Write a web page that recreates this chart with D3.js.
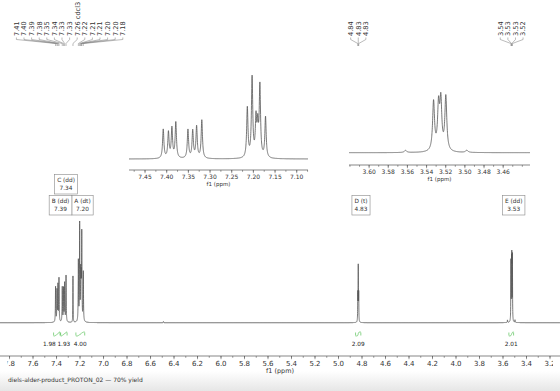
<!DOCTYPE html>
<html>
<head>
<meta charset="utf-8">
<script src="https://cdn.jsdelivr.net/npm/d3@7"></script>
<style>
body { margin: 0; background: #fff; }
svg { display: block; font-family: "DejaVu Sans", Verdana, sans-serif; }
</style>
</head>
<body>
<script>
// ---- data ----
// aromatic lines (ppm) and their heights, tallest group = 1
var aromShift  = [7.408, 7.396, 7.388, 7.379, 7.351, 7.340, 7.331, 7.319, 7.214, 7.203, 7.194, 7.190, 7.185, 7.172];
var aromHeight = [0.35, 0.31, 0.36, 0.43, 0.345, 0.33, 0.38, 0.46, 0.60, 0.96, 0.445, 0.35, 0.85, 0.49];
var solventShift  = [7.26];
var solventHeight = [0.46];
var dShift  = [4.836, 4.832, 4.828];
var dHeight = [0.27, 0.54, 0.27];
var eShift  = [3.5327, 3.5275, 3.5251, 3.5199];
var eHeight = [0.59, 0.52, 0.57, 0.65];
var smallShift  = [6.49, 3.562, 3.498];
var smallHeight = [0.012, 0.025, 0.025];

// peak picking labels (top)
var aromLabels = ["7.41", "7.40", "7.39", "7.38", "7.35", "7.34", "7.33", "7.33", "7.22", "7.21", "7.21", "7.20", "7.20", "7.18"];
var solventLabels = ["7.26 cdcl3"];
var dLabels = ["4.84", "4.83", "4.83"];
var eLabels = ["3.54", "3.53", "3.53", "3.52"];

// multiplets
var multName  = ["A", "B", "C", "D", "E"];
var multType  = ["dt", "dd", "dd", "t", "dd"];
var multShift = [7.20, 7.39, 7.34, 4.83, 3.53];

// integrals
var intFrom  = [7.425, 7.365, 7.235, 4.855, 3.55];
var intTo    = [7.37, 7.31, 7.16, 4.81, 3.51];
var intValue = [1.98, 1.93, 4.00, 2.09, 2.01];

var mainTicks = d3.range(7.8, 3.1, -0.2);
var inset1Ticks = d3.range(7.45, 7.08, -0.05);
var inset2Ticks = d3.range(3.60, 3.45, -0.02);
var caption = "diels-alder-product_PROTON_02 \u2014 70% yield";

// ---- setup ----
var W = 560, H = 391;
var svg = d3.select("body").append("svg").attr("width", W).attr("height", H);
var defs = svg.append("defs");

var grad = defs.append("linearGradient")
    .attr("id", "band").attr("x1", 0).attr("y1", 0).attr("x2", 0).attr("y2", 1);
grad.append("stop").attr("offset", 0).attr("stop-color", "#fff");
grad.append("stop").attr("offset", 1).attr("stop-color", "#e6e6e6");
svg.append("rect").attr("x", 0).attr("y", 371).attr("width", W).attr("height", H - 371)
    .attr("fill", "url(#band)");

// the exported figure is cut a little at both sides
defs.append("clipPath").attr("id", "cut").append("rect")
    .attr("x", 7.5).attr("y", 0).attr("width", 545.5).attr("height", H);

var lines = [], insetLines = [];
function addLines(shifts, heights, width, inInset) {
    shifts.forEach(function (s, i) {
        var l = { ppm: s, h: heights[i], w: width };
        lines.push(l);
        if (inInset) insetLines.push(l);
    });
}
addLines(aromShift, aromHeight, 0.0018, true);
addLines(solventShift, solventHeight, 0.0012, false);
addLines(dShift, dHeight, 0.0012, true);
addLines(eShift, eHeight, 0.0012, true);
addLines(smallShift, smallHeight, 0.0015, true);

function intensity(ppm, set) {
    var v = 0;
    set.forEach(function (l) {
        var d = ppm - l.ppm;
        v += l.h * l.w * l.w / (d * d + l.w * l.w);
    });
    return v;
}

function drawCurve(g, x, y, set, step) {
    var dom = x.domain();
    var ppms = d3.range(dom[0], dom[1], -step).concat(set.map(function (l) { return l.ppm; })
        .filter(function (p) { return p < dom[0] && p > dom[1]; }));
    ppms.sort(d3.descending);
    var pts = ppms.map(function (p) { return [x(p), y(intensity(p, set))]; });
    g.append("path")
        .attr("d", d3.line()(pts))
        .attr("fill", "none")
        .attr("stroke", "#555")
        .attr("stroke-width", 0.8);
}

function drawAxis(g, x, yPos, ticks, minorStep, fmt, fontSize, labelY, clip) {
    var dom = x.domain();
    var minor = d3.range(Math.floor(dom[0] / minorStep) * minorStep, dom[1], -minorStep);
    var ax = g.append("g").attr("transform", "translate(0," + yPos + ")");
    ax.append("line").attr("x1", x(dom[0])).attr("x2", x(dom[1]))
        .attr("stroke", "#555").attr("stroke-width", 0.7);
    ax.selectAll(".minor").data(minor).enter().append("line")
        .attr("x1", function (d) { return x(d); }).attr("x2", function (d) { return x(d); })
        .attr("y1", 0).attr("y2", 1.8).attr("stroke", "#555").attr("stroke-width", 0.6);
    ax.selectAll(".major").data(ticks).enter().append("line")
        .attr("x1", function (d) { return x(d); }).attr("x2", function (d) { return x(d); })
        .attr("y1", 0).attr("y2", 3.2).attr("stroke", "#555").attr("stroke-width", 0.6);
    var lab = ax.append("g");
    if (clip) lab.attr("clip-path", "url(#cut)");
    lab.selectAll("text").data(ticks).enter().append("text")
        .attr("x", function (d) { return x(d); })
        .attr("y", 4.5 + fontSize * 0.8)
        .attr("text-anchor", "middle")
        .attr("font-size", fontSize)
        .attr("fill", "#333")
        .text(function (d) { return d3.format(fmt)(d); });
    g.append("text")
        .attr("x", (x.range()[0] + x.range()[1]) / 2)
        .attr("y", labelY)
        .attr("text-anchor", "middle")
        .attr("font-size", fontSize * 0.92)
        .attr("fill", "#333")
        .text("f1 (ppm)");
}

// ---- main spectrum ----
var x = d3.scaleLinear().domain([7.881, 3.115]).range([0, W]);
var baseY = 322.7;
var y = d3.scaleLinear().domain([0, 1]).range([baseY, baseY - 100.7]);
var main = svg.append("g");
drawCurve(main, x, y, lines, 0.0003);
drawAxis(main, x, 356, mainTicks, 0.1, ".1f", 7, 373, true);

// ---- insets ----
var x1 = d3.scaleLinear().domain([7.487, 7.074]).range([129, 308]);
var y1 = d3.scaleLinear().domain([0, 1]).range([159, 159 - 83]);
var inset1 = svg.append("g");
drawCurve(inset1, x1, y1, insetLines, 0.0002);
drawAxis(inset1, x1, 170, inset1Ticks, 0.025, ".2f", 6, 186, false);

var x2 = d3.scaleLinear().domain([3.621, 3.432]).range([349, 530]);
var y2 = d3.scaleLinear().domain([0, 1]).range([152.7, 152.7 - 83.5]);
var inset2 = svg.append("g");
drawCurve(inset2, x2, y2, insetLines, 0.0001);
drawAxis(inset2, x2, 165, inset2Ticks, 0.01, ".2f", 6, 180.5, false);

// ---- peak labels on top ----
function peakLabels(labels, shifts, spacing) {
    var xs = shifts.map(function (s) { return x(s); });
    var c = d3.mean(xs);
    var g = svg.append("g");
    labels.forEach(function (t, i) {
        var lx = c + (i - (labels.length - 1) / 2) * spacing;
        g.append("text")
            .attr("transform", "translate(" + lx + ",36) rotate(-90)")
            .attr("dy", "0.35em")
            .attr("font-size", 6.6)
            .attr("fill", "#333")
            .text(t);
        g.append("path")
            .attr("d", "M" + lx + ",37.5V39.5L" + xs[i] + ",43.5V46")
            .attr("fill", "none").attr("stroke", "#777").attr("stroke-width", 0.5);
    });
}
var leftShift = aromShift.slice(0, 8).concat(solventShift, aromShift.slice(8));
var leftLabels = aromLabels.slice(0, 8).concat(solventLabels, aromLabels.slice(8));
peakLabels(leftLabels, leftShift, 7.6);
peakLabels(dLabels, dShift, 7.6);
peakLabels(eLabels, eShift, 7.6);

// ---- multiplet boxes ----
var boxFont = 5.8, placed = [];
multName.forEach(function (n, i) {
    var l1 = n + " (" + multType[i] + ")", l2 = multShift[i].toFixed(2);
    var g = svg.append("g");
    var t1 = g.append("text").attr("font-size", boxFont).attr("text-anchor", "middle").attr("fill", "#333").text(l1);
    var t2 = g.append("text").attr("font-size", boxFont).attr("text-anchor", "middle").attr("fill", "#333").text(l2);
    var w = Math.max(t1.node().getComputedTextLength(), t2.node().getComputedTextLength()) + 5;
    var cx = x(multShift[i]) + 2.5;
    var row = 0;
    while (placed.some(function (p) { return p.row === row && cx - w / 2 < p.x1 - 0.5 && cx + w / 2 > p.x0 + 0.5; })) row++;
    if (row === 0) {
        placed.filter(function (p) { return p.row === 0 && cx - w / 2 < p.x1 + 1 && cx > p.x1; })
            .forEach(function (p) { cx = p.x1 + w / 2; });
        placed.filter(function (p) { return p.row === 0 && cx + w / 2 > p.x0 - 1 && cx < p.x0; })
            .forEach(function (p) { cx = p.x0 - w / 2; });
    }
    var top = 195.5 - row * 21;
    placed.push({ row: row, x0: cx - w / 2, x1: cx + w / 2 });
    g.insert("rect", "text").attr("x", cx - w / 2).attr("y", top).attr("width", w).attr("height", 19.5)
        .attr("fill", "#fff").attr("stroke", "#888").attr("stroke-width", 0.6);
    t1.attr("x", cx).attr("y", top + 7.6);
    t2.attr("x", cx).attr("y", top + 15);
});

// ---- integrals ----
var intG = svg.append("g");
var labelPos = intValue.map(function (v, i) { return (x(intFrom[i]) + x(intTo[i])) / 2; });
for (var i = labelPos.length - 2; i >= 0; i--) {
    if (labelPos[i + 1] - labelPos[i] < 14.5) labelPos[i] = labelPos[i + 1] - 14.5;
}
intValue.forEach(function (v, i) {
    var a = intFrom[i], b = intTo[i];
    var ps = d3.range(0, 41).map(function (k) { return a + (b - a) * k / 40; });
    var cum = 0, cs = ps.map(function (p) { cum += intensity(p, lines); return cum; });
    var pts = ps.map(function (p, k) { return [x(p), 336 - 4 * cs[k] / cum]; });
    intG.append("path").attr("d", d3.line()(pts)).attr("fill", "none")
        .attr("stroke", "#3cb83c").attr("stroke-width", 0.6);
    [a, b].forEach(function (p) {
        intG.append("line").attr("x1", x(p)).attr("x2", x(p)).attr("y1", 332.5).attr("y2", 335.5)
            .attr("stroke", "#3cb83c").attr("stroke-width", 0.6);
    });
    intG.append("text").attr("x", labelPos[i]).attr("y", 346.3)
        .attr("text-anchor", "middle").attr("font-size", 5.8).attr("fill", "#222")
        .text(v.toFixed(2));
});

// ---- caption ----
svg.append("text").attr("x", 8).attr("y", 381.5)
    .attr("font-size", 6).attr("fill", "#333").text(caption);
</script>
</body>
</html>
